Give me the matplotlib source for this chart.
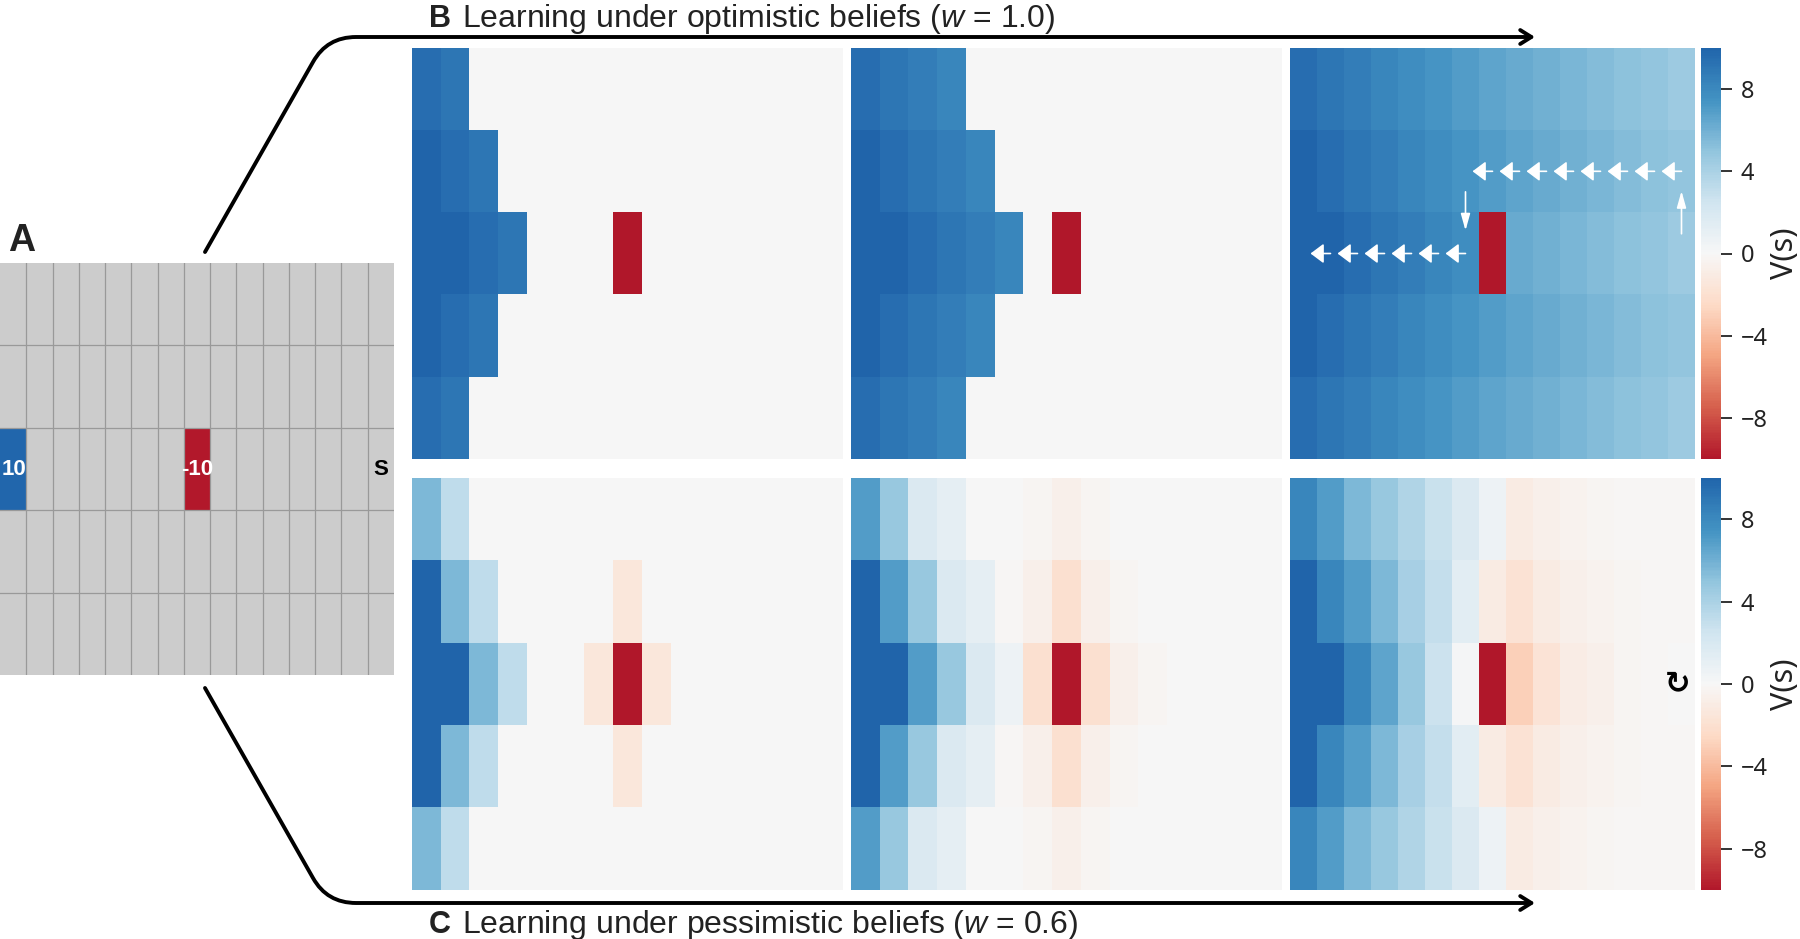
import numpy as np
import matplotlib
matplotlib.use('Agg')
import matplotlib.pyplot as plt
from matplotlib.colors import LinearSegmentedColormap, ListedColormap
from matplotlib.path import Path
from matplotlib.patches import FancyArrowPatch

plt.rcParams['mathtext.fontset'] = 'custom'
plt.rcParams['mathtext.it'] = 'Liberation Sans:italic'
plt.rcParams['mathtext.rm'] = 'Liberation Sans'

# ---- data: V(s) on the 5 x 15 grid ----
# B: optimistic beliefs (w = 1.0), three learning stages
B1 = [
    [9.5, 9.0, 0, 0, 0, 0, 0, 0, 0, 0, 0, 0, 0, 0, 0],
    [10, 9.5, 9.0, 0, 0, 0, 0, 0, 0, 0, 0, 0, 0, 0, 0],
    [10, 10, 9.5, 9.0, 0, 0, 0, -10, 0, 0, 0, 0, 0, 0, 0],
    [10, 9.5, 9.0, 0, 0, 0, 0, 0, 0, 0, 0, 0, 0, 0, 0],
    [9.5, 9.0, 0, 0, 0, 0, 0, 0, 0, 0, 0, 0, 0, 0, 0],
]
B2 = [
    [9.5, 9.0, 8.6, 8.1, 0, 0, 0, 0, 0, 0, 0, 0, 0, 0, 0],
    [10, 9.5, 9.0, 8.6, 8.1, 0, 0, 0, 0, 0, 0, 0, 0, 0, 0],
    [10, 10, 9.5, 9.0, 8.6, 8.1, 0, -10, 0, 0, 0, 0, 0, 0, 0],
    [10, 9.5, 9.0, 8.6, 8.1, 0, 0, 0, 0, 0, 0, 0, 0, 0, 0],
    [9.5, 9.0, 8.6, 8.1, 0, 0, 0, 0, 0, 0, 0, 0, 0, 0, 0],
]
B3 = [
    [9.5, 9.0, 8.6, 8.1, 7.7, 7.4, 7.0, 6.6, 6.3, 6.0, 5.7, 5.4, 5.1, 4.9, 4.6],
    [10, 9.5, 9.0, 8.6, 8.1, 7.7, 7.4, 7.0, 6.6, 6.3, 6.0, 5.7, 5.4, 5.1, 4.9],
    [10, 10, 9.5, 9.0, 8.6, 8.1, 7.7, -10, 6.3, 6.0, 5.7, 5.4, 5.1, 4.9, 4.6],
    [10, 9.5, 9.0, 8.6, 8.1, 7.7, 7.4, 7.0, 6.6, 6.3, 6.0, 5.7, 5.4, 5.1, 4.9],
    [9.5, 9.0, 8.6, 8.1, 7.7, 7.4, 7.0, 6.6, 6.3, 6.0, 5.7, 5.4, 5.1, 4.9, 4.6],
]
# C: pessimistic beliefs (w = 0.6)
C1 = [
    [5.6, 3.2, 0, 0, 0, 0, 0, 0, 0, 0, 0, 0, 0, 0, 0],
    [10, 5.6, 3.2, 0, 0, 0, 0, -1.4, 0, 0, 0, 0, 0, 0, 0],
    [10, 10, 5.6, 3.2, 0, 0, -1.4, -10, -1.4, 0, 0, 0, 0, 0, 0],
    [10, 5.6, 3.2, 0, 0, 0, 0, -1.4, 0, 0, 0, 0, 0, 0, 0],
    [5.6, 3.2, 0, 0, 0, 0, 0, 0, 0, 0, 0, 0, 0, 0, 0],
]
C2 = [
    [6.9, 4.7, 1.8, 1.1, 0, 0, -0.2, -0.6, -0.2, 0, 0, 0, 0, 0, 0],
    [10, 6.9, 4.7, 1.8, 1.1, -0.1, -0.6, -2.0, -0.6, -0.2, 0, 0, 0, 0, 0],
    [10, 10, 6.9, 4.7, 1.8, 0.7, -2.0, -10, -2.0, -0.6, -0.2, 0, 0, 0, 0],
    [10, 6.9, 4.7, 1.8, 1.1, -0.1, -0.6, -2.0, -0.6, -0.2, 0, 0, 0, 0, 0],
    [6.9, 4.7, 1.8, 1.1, 0, 0, -0.2, -0.6, -0.2, 0, 0, 0, 0, 0, 0],
]
C3 = [
    [8.2, 6.9, 5.6, 4.7, 3.7, 2.8, 1.8, 0.6, -1.0, -0.6, -0.4, -0.2, -0.15, -0.15, -0.15],
    [10, 8.2, 6.9, 5.6, 4.2, 2.9, 1.3, -1.0, -1.8, -1.0, -0.6, -0.4, -0.2, -0.15, -0.15],
    [10, 10, 8.2, 6.5, 4.7, 2.7, 0.1, -10, -3.0, -1.7, -0.9, -0.6, -0.3, -0.15, 0.0],
    [10, 8.2, 6.9, 5.6, 4.2, 2.9, 1.3, -1.0, -1.8, -1.0, -0.6, -0.4, -0.2, -0.15, -0.15],
    [8.2, 6.9, 5.6, 4.7, 3.7, 2.8, 1.8, 0.6, -1.0, -0.6, -0.4, -0.2, -0.15, -0.15, -0.15],
]

# panel A gridworld: 0 empty, 1 reward +10, 2 reward -10, 3 start
world = [
    [0] * 15,
    [0] * 15,
    [1, 0, 0, 0, 0, 0, 0, 2, 0, 0, 0, 0, 0, 0, 3],
    [0] * 15,
    [0] * 15,
]
world_labels = [(0, 2, '10', 'white'), (7, 2, '-10', 'white'), (14, 2, 'S', 'black')]

# greedy path drawn on the converged optimistic map (row, col, move)
path_rows = [2, 1, 1, 1, 1, 1, 1, 1, 1, 1, 2, 2, 2, 2, 2, 2]
path_cols = [14, 14, 13, 12, 11, 10, 9, 8, 7, 6, 6, 5, 4, 3, 2, 1]
path_moves = ['up'] + ['left'] * 8 + ['down'] + ['left'] * 6

cbar_ticks = [-8, -4, 0, 4, 8]

# ---- figure ----
W, H = 1800, 939
fig = plt.figure(figsize=(W / 100, H / 100), dpi=100)
fig.patch.set_facecolor('white')


def add_px_axes(x0, y0, x1, y1):
    # axes placed in pixel coordinates, y measured from the top
    return fig.add_axes([x0 / W, 1 - y1 / H, (x1 - x0) / W, (y1 - y0) / H])


# truncated RdBu (the 9-class end colours #b2182b ... #2166ac)
cmap = LinearSegmentedColormap.from_list('rdbu9', plt.get_cmap('RdBu')(np.linspace(0.1, 0.9, 256)))

heat_x = [(412, 843), (851, 1282), (1290, 1695)]
heat_y = [(48, 459), (478, 890)]
panels = [[B1, B2, B3], [C1, C2, C3]]
heat_axes = [[None] * 3, [None] * 3]

for i, row in enumerate(panels):
    for j, vals in enumerate(row):
        ax = add_px_axes(heat_x[j][0], heat_y[i][0], heat_x[j][1], heat_y[i][1])
        im = ax.imshow(np.array(vals), cmap=cmap, vmin=-10, vmax=10,
                       aspect='auto', interpolation='nearest')
        ax.set_axis_off()
        heat_axes[i][j] = ax
    cax = add_px_axes(1701, heat_y[i][0], 1721, heat_y[i][1])
    cb = fig.colorbar(im, cax=cax, ticks=cbar_ticks)
    cb.outline.set_visible(False)
    cax.tick_params(length=8, width=1.4, color='#333333', labelsize=17,
                    pad=6, labelcolor='#222222')
    for lab in cax.get_yticklabels():
        lab.set_family('Noto Sans')

# arrows of the greedy path on B3
axp = heat_axes[0][2]
for r, c, m in zip(path_rows, path_cols, path_moves):
    if m == 'left':
        tail, tip = (c, r), (c - 0.74, r)
        style = '-|>,head_length=0.8,head_width=0.6'
    elif m == 'up':
        tail, tip = (c, r - 0.24), (c, r - 0.76)
        style = '-|>,head_length=1.0,head_width=0.28'
    else:
        tail, tip = (c, r + 0.25), (c, r + 0.72)
        style = '-|>,head_length=1.0,head_width=0.28'
    axp.annotate('', xy=tip, xytext=tail,
                 arrowprops=dict(arrowstyle=style, color='white', lw=1.2,
                                 mutation_scale=10, shrinkA=0, shrinkB=0))

# "stay" symbol at the start state on C3
heat_axes[1][2].text(13.85, 2.0, '\u21bb', fontsize=22, fontweight='bold',
                     family='DejaVu Sans', ha='center', va='center', color='black')

# ---- panel A ----
axa = add_px_axes(0, 263, 394, 675)
axa.imshow(np.array(world), cmap=ListedColormap(['#cccccc', '#2166ac', '#b2182b', '#cccccc']),
           vmin=0, vmax=3, aspect='auto', interpolation='nearest')
for k in range(1, 15):
    axa.axvline(k - 0.5, color='#999999', lw=0.9)
for k in range(1, 5):
    axa.axhline(k - 0.5, color='#999999', lw=0.9)
axa.set_axis_off()
for cx, cy, txt, col in world_labels:
    axa.text(cx + (0.05 if txt == '10' else 0), cy, txt, color=col,
             fontsize=16 if txt != 'S' else 16,
             fontweight='bold', family='Liberation Sans',
             ha='center', va='center')

# ---- overlay: connectors and titles ----
ov = fig.add_axes([0, 0, 1, 1], zorder=10)
ov.set_xlim(0, W)
ov.set_ylim(H, 0)
ov.axis('off')

top_path = Path([(205, 252), (313, 62), (327, 37), (356, 37), (1535, 37)],
                [Path.MOVETO, Path.LINETO, Path.CURVE3, Path.CURVE3, Path.LINETO])
bot_path = Path([(205, 688), (313, 878), (327, 903), (356, 903), (1535, 903)],
                [Path.MOVETO, Path.LINETO, Path.CURVE3, Path.CURVE3, Path.LINETO])
for p in (top_path, bot_path):
    ov.add_patch(FancyArrowPatch(path=p, arrowstyle='->,head_length=0.4,head_width=0.25',
                                 mutation_scale=20, lw=2.8, color='black',
                                 transform=ov.transData))

txt_col = '#222222'
ov.text(8, 251, 'A', fontsize=27, fontweight='bold', family='Liberation Sans',
        color=txt_col, va='baseline', ha='left')
ov.text(429, 27, 'B', fontsize=22, fontweight='bold', family='Liberation Sans',
        color=txt_col, va='baseline', ha='left')
ov.text(462, 27, 'Learning under optimistic beliefs ($w$ = 1.0)', fontsize=23,
        family='Liberation Sans', color=txt_col, va='baseline', ha='left')
ov.text(429, 933, 'C', fontsize=22, fontweight='bold', family='Liberation Sans',
        color=txt_col, va='baseline', ha='left')
ov.text(462, 933, 'Learning under pessimistic beliefs ($w$ = 0.6)', fontsize=23,
        family='Liberation Sans', color=txt_col, va='baseline', ha='left')

for yc in [(heat_y[0][0] + heat_y[0][1]) / 2, (heat_y[1][0] + heat_y[1][1]) / 2]:
    ov.text(1785, yc, 'V(s)', fontsize=22, family='Noto Sans', color=txt_col,
            rotation=90, ha='center', va='center')

fig.savefig('out.png', dpi=100)
